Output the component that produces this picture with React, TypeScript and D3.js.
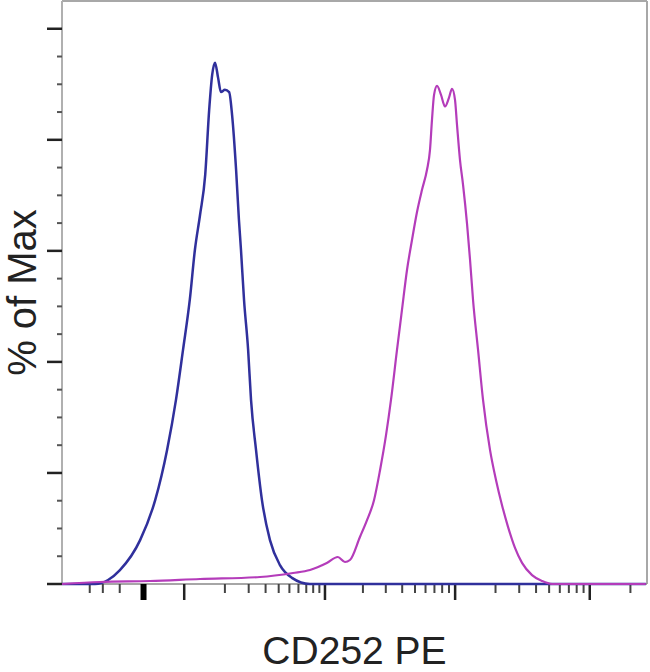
import React from "react";
import * as d3 from "d3";

// CD252 PE fluorescence (biexponential-like display), % of Max
const blueX = [-702, -357, -266, -199, -112, -64, -34, -15, -2, 10, 20, 31, 43, 53, 61, 69, 78, 87, 100, 115, 126, 142, 154, 163, 177, 197, 212, 240, 276, 331, 411, 527, 752, 260000];
const blueY = [0, 0, 0.72, 2.5, 7.9, 15.1, 24.1, 33.2, 42.2, 51.2, 60.2, 66.5, 73.7, 85.4, 91.7, 93.9, 91.2, 88.6, 89.0, 88.6, 84.5, 74.6, 65.6, 60.2, 51.2, 42.2, 33.2, 24.1, 15.1, 7.9, 3.4, 1.1, 0, 0];

const magentaX = [-702, -320, -79, 31, 264, 538, 752, 1035, 1269, 1447, 1583, 1896, 2151, 2436, 2710, 3012, 3289, 3654, 3986, 4352, 4748, 5176, 5645, 6155, 6483, 6710, 6953, 7322, 7843, 8402, 9000, 9478, 9980, 10330, 10870, 11460, 12270, 12920, 13600, 14820, 16140, 18210, 20180, 22350, 24770, 27910, 31480, 37340, 44280, 52540, 260000];
const magentaY = [0, 0.36, 0.54, 0.9, 1.26, 1.98, 2.52, 3.78, 4.86, 3.96, 4.32, 8.47, 11.5, 15.1, 20.5, 26.8, 33.2, 42.2, 49.4, 56.6, 62.0, 67.0, 71.0, 74.6, 78.2, 83.6, 88.1, 89.7, 88.1, 86.0, 87.6, 89.2, 87.2, 82.7, 76.4, 71.9, 64.9, 58.4, 51.2, 42.2, 33.2, 24.1, 18.7, 14.2, 10.3, 6.5, 3.8, 1.6, 0.54, 0, 0];

const xMajorTicks = [0, 1000, 10000, 100000];
const xMinorTicks = [-400, -300, -200, -100, 100, 200, 300, 400, 500, 600, 700, 800, 900, 2000, 3000, 4000, 5000, 6000, 7000, 8000, 9000, 20000, 30000, 40000, 50000, 60000, 70000, 80000, 90000, 200000];
const yMajorTicks = [0, 20, 40, 60, 80, 100];
const yMinorTicks = [5, 10, 15, 25, 30, 35, 45, 50, 55, 65, 70, 75, 85, 90, 95];

const xLabel = "CD252 PE";
const yLabel = "% of Max";

const W = 650;
const H = 672;
const L = 62;
const R = 647;
const T = 1;
const B = 584;

export default function App() {
  const x = d3.scaleSymlog().constant(100).domain([-702, 265300]).range([L, R]);
  const y = d3.scaleLinear().domain([0, 105]).range([B, T]);

  const line = d3
    .line<[number, number]>()
    .x((d) => x(d[0]))
    .y((d) => y(d[1]))
    .curve(d3.curveMonotoneX);

  const blue = blueX.map((v, i) => [v, blueY[i]] as [number, number]);
  const magenta = magentaX.map((v, i) => [v, magentaY[i]] as [number, number]);

  const font = "'Liberation Sans', Arial, Helvetica, sans-serif";

  return (
    <svg
      width={W}
      height={H}
      style={{ position: "absolute", left: 0, top: 0, background: "#fff" }}
    >
      <rect x={0} y={0} width={W} height={H} fill="#fff" />
      {/* frame */}
      <line x1={L} y1={T} x2={R} y2={T} stroke="#a8a8a8" strokeWidth={2} />
      <line x1={R} y1={T} x2={R} y2={B} stroke="#a8a8a8" strokeWidth={2} />
      <line x1={L} y1={T} x2={L} y2={B} stroke="#b0b0b0" strokeWidth={2} />
      <line x1={L} y1={B} x2={R} y2={B} stroke="#888" strokeWidth={1.5} />

      {/* y ticks */}
      {yMajorTicks.map((t) => (
        <line key={"ym" + t} x1={L - 15} x2={L} y1={y(t)} y2={y(t)} stroke="#222" strokeWidth={2.5} />
      ))}
      {yMinorTicks.map((t) => (
        <line key={"yn" + t} x1={L - 5} x2={L} y1={y(t)} y2={y(t)} stroke="#555" strokeWidth={2} />
      ))}

      {/* x ticks */}
      {xMajorTicks.map((t) => (
        <line key={"xm" + t} x1={x(t)} x2={x(t)} y1={B} y2={B + 16} stroke="#222" strokeWidth={2.5} />
      ))}
      {xMinorTicks.map((t) => (
        <line
          key={"xn" + t}
          x1={x(t)}
          x2={x(t)}
          y1={B}
          y2={B + (t === -100 ? 16 : 9)}
          stroke={t === -100 ? "#000" : "#444"}
          strokeWidth={t === -100 ? 6 : 2}
        />
      ))}

      {/* curves */}
      <path d={line(blue) || ""} fill="none" stroke="#30309c" strokeWidth={2.5} strokeLinejoin="round" />
      <path d={line(magenta) || ""} fill="none" stroke="#b43cba" strokeWidth={2.2} strokeLinejoin="round" />

      {/* labels */}
      <text
        x={(L + R) / 2}
        y={664}
        textAnchor="middle"
        fontFamily={font}
        fontSize={39}
        fill="#222"
      >
        {xLabel}
      </text>
      <text
        transform={`translate(36, ${(T + B) / 2}) rotate(-90)`}
        textAnchor="middle"
        fontFamily={font}
        fontSize={40}
        fill="#222"
      >
        {yLabel}
      </text>
    </svg>
  );
}
